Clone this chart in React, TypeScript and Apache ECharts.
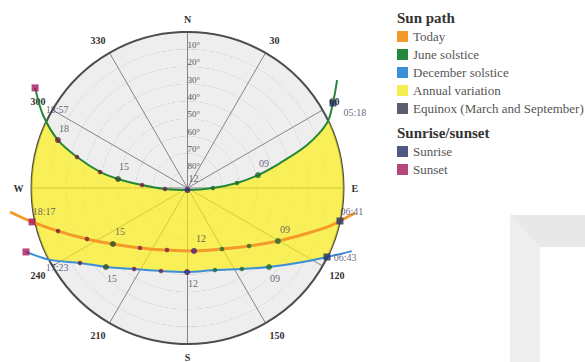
import React, { useEffect, useRef } from 'react';
import * as echarts from 'echarts';

// [elevation°, azimuth°], ordered sunrise (east) -> sunset (west)
const todayPath: number[][] = [
  [-7.7, 98.5], [0, 102.2], [4.9, 104.9], [17.2, 111.4], [29.5, 120.4], [41.2, 133.3],
  [49.6, 150.5], [53.5, 174.1], [52.3, 198.3], [45.9, 218.4], [36.2, 233.1], [25.0, 243.1],
  [11.3, 251.6], [-1.8, 257.7], [-13.3, 262.3],
];
const junePath: number[][] = [
  [-16.4, 54.2], [-7.2, 59.7], [1.2, 65.0], [16.7, 70.2], [34.7, 74.9], [48.6, 79.6],
  [61.3, 84.2], [75.3, 90], [88.8, 180], [77.0, 267.5], [63.7, 273.8], [49.6, 277.4],
  [38.7, 280.4], [23.8, 285.7], [10.3, 290.3], [-3.4, 296.8], [-15.2, 303.3],
];
const decemberPath: number[][] = [
  [-11.6, 111.0], [0.2, 116.3], [13.4, 124.4], [24.5, 134.1], [33.7, 146.1], [40.1, 161.5],
  [41.5, 180.3], [39.7, 197.7], [34.0, 213.4], [24.5, 225.9], [14.4, 235.1], [0.5, 242.4],
  [-10.2, 248.4],
];

// hourly positions [elevation, azimuth, hour]
const todayHours: number[][] = [
  [29.5, 120.4, 9], [41.2, 133.3, 10], [49.6, 150.5, 11], [53.5, 174.1, 12], [52.3, 198.3, 13],
  [45.9, 218.4, 14], [36.2, 233.1, 15], [25.0, 243.1, 16], [11.3, 251.6, 17],
];
const juneHours: number[][] = [
  [48.6, 79.6, 9], [61.3, 84.2, 10], [75.3, 90, 11], [88.8, 180, 12], [77.0, 267.5, 13],
  [63.7, 273.8, 14], [49.6, 277.4, 15], [38.7, 280.4, 16], [23.8, 285.7, 17], [10.3, 290.3, 18],
];
const decemberHours: number[][] = [
  [24.5, 134.1, 9], [33.7, 146.1, 10], [40.1, 161.5, 11], [41.5, 180.3, 12], [39.7, 197.7, 13],
  [34.0, 213.4, 14], [24.5, 225.9, 15], [14.4, 235.1, 16],
];
const labeledHours = [9, 12, 15, 18];

// sunrise / sunset points: June, today, December
const sunrisePoints: number[][] = [[-7.2, 59.7], [0, 102.2], [0.2, 116.3]];
const sunsetPoints: number[][] = [[-15.2, 303.3], [-1.8, 257.7], [-10.2, 248.4]];
const sunriseTimes = ['05:18', '06:41', '06:43'];
const sunsetTimes = ['18:57', '18:17', '17:23'];

const compassNames: Record<number, string> = { 0: 'N', 90: 'E', 180: 'S', 270: 'W' };
const elevationTicks = [10, 20, 30, 40, 50, 60, 70, 80];
const legendSunPath = ['Today', 'June solstice', 'December solstice', 'Annual variation', 'Equinox (March and September)'];
const legendSunriseSunset = ['Sunrise', 'Sunset'];

// style constants
const SERIF = '"Liberation Serif", "DejaVu Serif", serif';
const sunriseLabelOffsets = [[22, 10], [12, -9], [18, 1]];
const sunsetLabelOffsets = [[22, 22], [12, -10], [31, 16]];

function hourColor(h: number) {
  if (h < 12) return '#1e6b2e';
  if (h === 12) return '#4a1f72';
  if (h < 15) return '#7a1d48';
  if (h === 15) return '#2f4a28';
  return '#6e2233';
}
function pad(h: number) { return h < 10 ? '0' + h : '' + h; }

function hourSeries(name: string, pts: number[][], offset: number[]) {
  return {
    name, type: 'scatter', coordinateSystem: 'polar', clip: false, z: 5,
    data: pts.map(p => ({
      value: [p[0], p[1]],
      symbolSize: labeledHours.includes(p[2]) ? 6 : 4.5,
      itemStyle: { color: hourColor(p[2]) },
      label: {
        show: labeledHours.includes(p[2]), position: 'inside', offset,
        formatter: pad(p[2]), fontFamily: SERIF, fontSize: 10, color: '#3d3d5c',
      },
    })),
  };
}

function pathSeries(name: string, path: number[][], color: string, width: number) {
  return {
    name, type: 'custom', coordinateSystem: 'polar', clip: false, z: 3,
    itemStyle: { color },
    data: [[0, 0]],
    renderItem: (_p: any, api: any) => ({
      type: 'polyline',
      shape: { points: path.map(p => api.coord([p[0], p[1]])), smooth: 0.3 },
      style: { stroke: color, lineWidth: width, fill: 'none' },
    }),
  };
}

export default function App() {
  const ref = useRef<HTMLDivElement>(null);
  useEffect(() => {
    if (!ref.current) return;
    const chart = echarts.init(ref.current, undefined, { renderer: 'svg' });
    const option: any = {
      animation: false,
      backgroundColor: '#ffffff',
      title: [
        { text: 'Sun path', left: 397, top: 10, padding: 0, textStyle: { fontFamily: SERIF, fontSize: 15, fontWeight: 'bold', color: '#333' } },
        { text: 'Sunrise/sunset', left: 397, top: 125, padding: 0, textStyle: { fontFamily: SERIF, fontSize: 15, fontWeight: 'bold', color: '#333' } },
      ],
      legend: [
        { data: legendSunPath, orient: 'vertical', left: 397, top: 30, padding: 0, icon: 'rect', itemWidth: 11, itemHeight: 11, itemGap: 5, selectedMode: false, textStyle: { fontFamily: SERIF, fontSize: 13, color: '#555' } },
        { data: legendSunriseSunset, orient: 'vertical', left: 397, top: 145, padding: 0, icon: 'rect', itemWidth: 11, itemHeight: 11, itemGap: 5, selectedMode: false, textStyle: { fontFamily: SERIF, fontSize: 13, color: '#555' } },
      ],
      polar: { center: [187.5, 188], radius: 156 },
      angleAxis: {
        type: 'value', min: 0, max: 360, interval: 30, startAngle: 90, clockwise: true,
        axisLine: { lineStyle: { color: '#4d4d4d', width: 2 } },
        axisTick: { show: false },
        axisLabel: {
          margin: 8, fontFamily: SERIF, fontSize: 10, fontWeight: 'bold', color: '#333',
          formatter: (v: number) => (v >= 360 ? '' : compassNames[v] ?? String(v)),
        },
        splitLine: { lineStyle: { color: '#858585', width: 1 } },
      },
      radiusAxis: {
        type: 'value', min: 0, max: 90, interval: 10, inverse: true,
        axisLine: { show: false }, axisTick: { show: false },
        axisLabel: {
          margin: 0, align: 'left', verticalAlign: 'bottom', fontFamily: SERIF, fontSize: 9, color: '#555',
          formatter: (v: number) => (elevationTicks.includes(v) ? v + '°' : ''),
        },
        splitLine: { lineStyle: { color: '#8a8a8a', width: 1 } },
        splitArea: { show: true, areaStyle: { color: ['#eeeeee', '#eeeeee'] } },
      },
      graphic: [
        { type: 'polygon', silent: true, shape: { points: [[510, 215], [585, 215], [585, 247], [540, 247]] }, style: { fill: '#e8e8e8' } },
        { type: 'polygon', silent: true, shape: { points: [[510, 215], [540, 247], [540, 362], [510, 362]] }, style: { fill: '#eeeeee' } },
      ],
      series: [
        {
          name: 'Annual variation', type: 'custom', coordinateSystem: 'polar', clip: true, z: 2,
          itemStyle: { color: '#f5ee50' },
          data: [[0, 0]],
          renderItem: (_p: any, api: any) => {
            const ring = [...junePath, ...decemberPath.slice().reverse()];
            const points = ring.map(p => api.coord([p[0], p[1]]));
            return { type: 'polygon', shape: { points }, style: { fill: 'rgba(255, 240, 10, 0.66)' } };
          },
        },
        pathSeries('Today', todayPath, '#f39a2a', 3),
        pathSeries('June solstice', junePath, '#23883a', 2),
        pathSeries('December solstice', decemberPath, '#3a8fd8', 2),
        { name: 'Equinox (March and September)', type: 'line', coordinateSystem: 'polar', data: [], symbol: 'none', itemStyle: { color: '#5e5d6e' } },
        hourSeries('todayHours', todayHours, [7, -12]),
        hourSeries('juneHours', juneHours, [6, -12]),
        hourSeries('decemberHours', decemberHours, [6, 11]),
        {
          name: 'Sunrise', type: 'scatter', coordinateSystem: 'polar', clip: false, z: 6, symbol: 'rect', symbolSize: 7,
          itemStyle: { color: '#243064' },
          data: sunrisePoints.map((p, i) => ({ value: p, label: { show: true, position: 'inside', offset: sunriseLabelOffsets[i], formatter: sunriseTimes[i], fontFamily: SERIF, fontSize: 10, color: '#3d3d5c' } })),
        },
        {
          name: 'Sunset', type: 'scatter', coordinateSystem: 'polar', clip: false, z: 6, symbol: 'rect', symbolSize: 7,
          itemStyle: { color: '#a5185a' },
          data: sunsetPoints.map((p, i) => ({ value: p, label: { show: true, position: 'inside', offset: sunsetLabelOffsets[i], formatter: sunsetTimes[i], fontFamily: SERIF, fontSize: 10, color: '#3d3d5c' } })),
        },
      ],
    };
    chart.setOption(option);
    return () => chart.dispose();
  }, []);
  return <div ref={ref} style={{ position: 'fixed', left: 0, top: 0, width: 585, height: 362 }} />;
}
